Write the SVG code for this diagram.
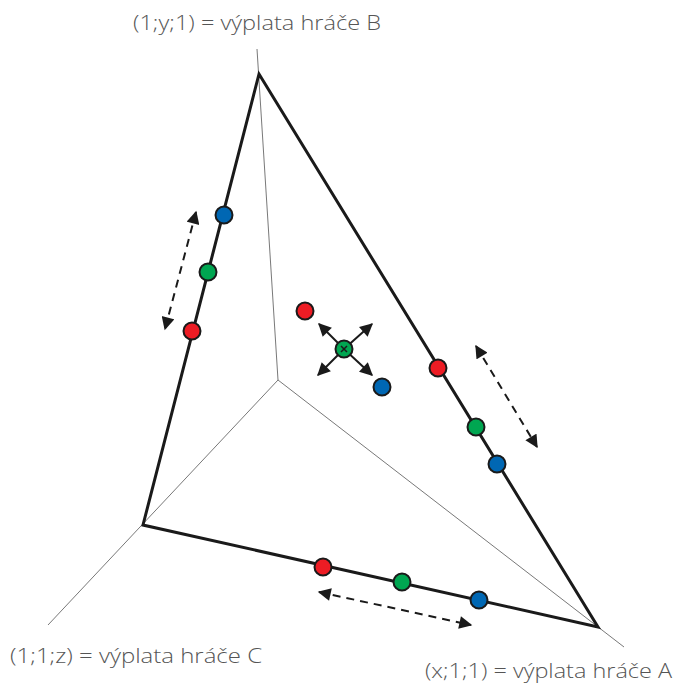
<svg xmlns="http://www.w3.org/2000/svg" width="675" height="684" viewBox="0 0 675 684">
<style>
.lbl{font-family:"Open Sans","Liberation Sans",sans-serif;font-size:20px;fill:#555;font-weight:300}
.axis{stroke:#555;stroke-width:0.8;fill:none}
.edge{stroke:#1a1a1a;stroke-width:3;fill:none;stroke-linejoin:miter}
.dash{stroke:#1a1a1a;stroke-width:2;stroke-dasharray:8 6;fill:none}
.sol{stroke:#1a1a1a;stroke-width:2;fill:none}
.dot{stroke:#1a1a1a;stroke-width:2}
.r{fill:#ed1c24}.g{fill:#00a651}.b{fill:#0067b3}
</style>
<defs>
<marker id="ah" viewBox="0 0 10 10" refX="9" refY="5" markerWidth="7" markerHeight="6.5" orient="auto-start-reverse" markerUnits="strokeWidth">
<path d="M0,0 L10,5 L0,10 z" fill="#1a1a1a"/>
</marker>
</defs>
<rect width="675" height="684" fill="#fff"/>
<g id="connectors">
<line class="axis" x1="278" y1="380" x2="257" y2="49"/>
<line class="axis" x1="278" y1="380" x2="48" y2="625"/>
<line class="axis" x1="278" y1="380" x2="624" y2="647"/>
<polygon class="edge" points="259,74 143,525 598,627"/>
<line class="dash" x1="196" y1="212" x2="165" y2="329" marker-start="url(#ah)" marker-end="url(#ah)"/>
<line class="dash" x1="476" y1="346" x2="537" y2="447" marker-start="url(#ah)" marker-end="url(#ah)"/>
<line class="dash" x1="319" y1="592" x2="471" y2="625" marker-start="url(#ah)" marker-end="url(#ah)"/>
<line class="sol" x1="344" y1="349" x2="319" y2="324" marker-end="url(#ah)"/>
<line class="sol" x1="344" y1="349" x2="372" y2="324" marker-end="url(#ah)"/>
<line class="sol" x1="344" y1="349" x2="318" y2="375" marker-end="url(#ah)"/>
<line class="sol" x1="344" y1="349" x2="372" y2="375" marker-end="url(#ah)"/>
</g>
<g id="left-dots">
<circle class="dot b" cx="224" cy="215" r="8.5"/>
<circle class="dot g" cx="208" cy="272" r="8.5"/>
<circle class="dot r" cx="192" cy="331" r="8.5"/>
</g>
<g id="right-dots">
<circle class="dot r" cx="438" cy="368" r="8.5"/>
<circle class="dot g" cx="476" cy="427" r="8.5"/>
<circle class="dot b" cx="497" cy="464" r="8.5"/>
</g>
<g id="bottom-dots">
<circle class="dot r" cx="323" cy="567" r="8.5"/>
<circle class="dot g" cx="402" cy="582" r="8.5"/>
<circle class="dot b" cx="479" cy="600" r="8.5"/>
</g>
<g id="interior-dots">
<circle class="dot r" cx="305" cy="311" r="8.5"/>
<circle class="dot g" cx="344" cy="349" r="8.5"/>
<path d="M341,346 L347,352 M347,346 L341,352" stroke="#1a1a1a" stroke-width="1.5"/>
<circle class="dot b" cx="382" cy="387" r="8.5"/>
</g>
<g id="label-B"><text class="lbl" x="133" y="30" textLength="248" lengthAdjust="spacingAndGlyphs">(1;y;1) = výplata hráče B</text></g>
<g id="label-C"><text class="lbl" x="10" y="663" textLength="252" lengthAdjust="spacingAndGlyphs">(1;1;z) = výplata hráče C</text></g>
<g id="label-A"><text class="lbl" x="425" y="678" textLength="247" lengthAdjust="spacingAndGlyphs">(x;1;1) = výplata hráče A</text></g>
</svg>
